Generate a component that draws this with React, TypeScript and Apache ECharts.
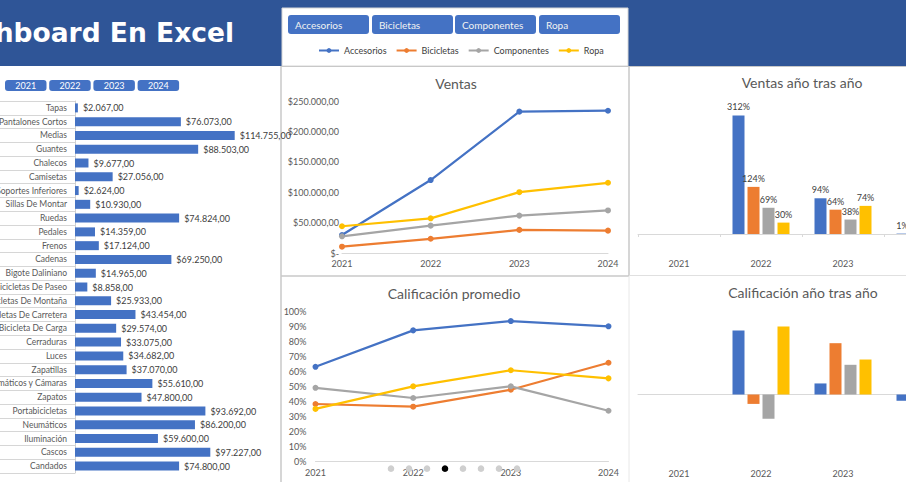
import React, { useEffect, useRef } from "react";
import * as echarts from "echarts";

const years = ["2021", "2022", "2023", "2024"];
const seriesNames = ["Accesorios", "Bicicletas", "Componentes", "Ropa"];
const colors = ["#4472C4", "#ED7D31", "#A5A5A5", "#FFC000"];

const products = [
  "Tapas", "Pantalones Cortos", "Medias", "Guantes", "Chalecos", "Camisetas",
  "Soportes Inferiores", "Sillas De Montar", "Ruedas", "Pedales", "Frenos", "Cadenas",
  "Bigote Daliniano", "Bicicletas De Paseo", "Bicicletas De Montaña", "Bicicletas De Carretera",
  "Bicicleta De Carga", "Cerraduras", "Luces", "Zapatillas", "Neumáticos y Cámaras",
  "Zapatos", "Portabicicletas", "Neumáticos", "Iluminación", "Cascos", "Candados",
];
const productSales = [
  2067, 76073, 114755, 88503, 9677, 27056, 2624, 10930, 74824, 14359, 17124, 69250,
  14965, 8858, 25933, 43454, 29574, 33075, 34682, 37070, 55610, 47800, 93692, 86200,
  59600, 97227, 74800,
];

const ventasAccesorios = [29500, 120000, 232500, 234000];
const ventasBicicletas = [10400, 23400, 38000, 36800];
const ventasComponentes = [27500, 45000, 61500, 70000];
const ventasRopa = [44000, 57000, 100000, 115500];

const califAccesorios = [63, 87.3, 93.5, 90];
const califBicicletas = [38.2, 36.4, 47.7, 65.7];
const califComponentes = [49, 42.2, 50, 33.7];
const califRopa = [34.9, 50, 60.7, 55.3];

const ventasYoyAccesorios = [null, 312, 94, 1];
const ventasYoyBicicletas = [null, 124, 64, -3];
const ventasYoyComponentes = [null, 69, 38, 13];
const ventasYoyRopa = [null, 30, 74, 15];

const califYoyAccesorios = [null, 38.8, 6.7, -3.8];
const califYoyBicicletas = [null, -5.7, 31.1, 37.7];
const califYoyComponentes = [null, -14.7, 18.0, -32.6];
const califYoyRopa = [null, 41.2, 21.2, -8.9];

const yearButtons = ["2021", "2022", "2023", "2024"];
const slicerButtons = ["Accesorios", "Bicicletas", "Componentes", "Ropa"];

const FONT = "Lato";
const TXT = "#595959";

function money(v: number): string {
  if (v === 0) return "$-";
  const s = Math.round(v).toString().replace(/\B(?=(\d{3})+(?!\d))/g, ".");
  return "$" + s + ",00";
}

export default function App() {
  const ref = useRef<HTMLDivElement>(null);
  useEffect(() => {
    document.body.style.margin = "0";
    const chart = echarts.init(ref.current!, undefined, { renderer: "svg" });

    const ventas = [ventasAccesorios, ventasBicicletas, ventasComponentes, ventasRopa];
    const calif = [califAccesorios, califBicicletas, califComponentes, califRopa];
    const vYoy = [ventasYoyAccesorios, ventasYoyBicicletas, ventasYoyComponentes, ventasYoyRopa];
    const cYoy = [califYoyAccesorios, califYoyBicicletas, califYoyComponentes, califYoyRopa];

    const lineCommon = (i: number) => ({
      type: "line",
      name: seriesNames[i],
      symbol: "circle",
      symbolSize: 6,
      itemStyle: { color: colors[i] },
      lineStyle: { color: colors[i], width: 2.25 },
      z: 5,
    });

    const series: any[] = [];
    for (let i = 0; i < 4; i++) {
      series.push({ ...lineCommon(i), xAxisIndex: 1, yAxisIndex: 1, data: ventas[i] });
    }
    for (let i = 0; i < 4; i++) {
      series.push({ ...lineCommon(i), xAxisIndex: 2, yAxisIndex: 2, data: calif[i] });
    }
    series.push({
      type: "bar",
      name: "Ventas producto",
      xAxisIndex: 0,
      yAxisIndex: 0,
      data: productSales,
      barWidth: 9,
      itemStyle: { color: "#4472C4" },
      label: {
        show: true,
        position: "right",
        distance: 5,
        fontFamily: FONT,
        fontSize: 9,
        color: "#404040",
        formatter: (p: any) => money(p.value),
      },
    });
    for (let i = 0; i < 4; i++) {
      series.push({
        type: "bar",
        name: seriesNames[i],
        xAxisIndex: 3,
        yAxisIndex: 3,
        data: vYoy[i],
        barWidth: 12,
        barGap: "25%",
        itemStyle: { color: colors[i] },
        label: {
          show: true,
          position: "top",
          distance: 4,
          fontFamily: FONT,
          fontSize: 9,
          color: "#404040",
          formatter: (p: any) => (p.value == null ? "" : p.value + "%"),
        },
      });
    }
    for (let i = 0; i < 4; i++) {
      series.push({
        type: "bar",
        name: seriesNames[i],
        xAxisIndex: 5,
        yAxisIndex: 4,
        data: cYoy[i],
        barWidth: 12,
        barGap: "25%",
        itemStyle: { color: colors[i] },
      });
    }

    const catLabel = { fontFamily: FONT, fontSize: 9, color: TXT };

    const graphic: any[] = [];
    graphic.push({ type: "rect", shape: { x: 0, y: 0, width: 906, height: 66 }, style: { fill: "#2F5597" }, z: 0 });
    graphic.push({
      type: "text", x: 234, y: 32, z: 1,
      style: { text: "Dashboard En Excel", fill: "#ffffff", font: "bold 26.5px 'DejaVu Sans'", textAlign: "right", textVerticalAlign: "middle" },
    });
    graphic.push({
      type: "rect", shape: { x: 282, y: 8, width: 346, height: 58 },
      style: { fill: "#ffffff", stroke: "#d6d6d6", lineWidth: 1 }, z: 1,
    });
    const slX = [288, 372, 455, 539];
    slicerButtons.forEach((s, i) => {
      graphic.push({
        type: "rect", shape: { x: slX[i], y: 15, width: 81, height: 19, r: 3 },
        style: { fill: "#4472C4" }, z: 2,
      });
      graphic.push({
        type: "text", x: slX[i] + 7, y: 24.5, z: 3,
        style: { text: s, fill: "#f2f2f2", font: `10px ${FONT}`, textVerticalAlign: "middle" },
      });
    });
    yearButtons.forEach((s, i) => {
      const x = 5 + i * 44.2;
      graphic.push({
        type: "rect", shape: { x, y: 80, width: 41.5, height: 11, r: 3 },
        style: { fill: "#4472C4" }, z: 2,
      });
      graphic.push({
        type: "text", x: x + 20.75, y: 85.7, z: 3,
        style: { text: s, fill: "#ffffff", font: `9px ${FONT}`, textAlign: "center", textVerticalAlign: "middle" },
      });
    });
    const line = (x1: number, y1: number, x2: number, y2: number, c: string, w = 1.5) =>
      graphic.push({ type: "line", shape: { x1, y1, x2, y2 }, style: { stroke: c, lineWidth: w }, z: 1 });
    line(281, 66, 281, 482, "#c8c8c8");
    line(281, 66.5, 906, 66.5, "#c8c8c8", 1);
    line(281, 276, 629, 276, "#c8c8c8");
    line(629, 66, 629, 276, "#c8c8c8");
    line(629, 276, 629, 482, "#e8e8e8", 1);
    line(629, 275.5, 906, 275.5, "#e0e0e0", 1);

    const title = (t: string, x: number, y: number) =>
      graphic.push({
        type: "text", x, y, z: 3,
        style: { text: t, fill: TXT, font: `14px ${FONT}`, textAlign: "center", textVerticalAlign: "middle" },
      });
    title("Ventas", 456, 83);
    title("Calificación promedio", 454, 293);
    title("Ventas año tras año", 802, 82);
    title("Calificación año tras año", 803, 292);

    const dotsX = [391, 409, 427, 445, 463, 481, 499, 517];
    dotsX.forEach((x, i) => {
      graphic.push({
        type: "circle", shape: { cx: x, cy: 468.7, r: 3.3 },
        style: { fill: i === 3 ? "#000000" : "#cfcfcf" }, z: 100,
      });
    });

    const g = (o: any) => ({ outerBoundsMode: "none", containLabel: false, ...o });

    chart.setOption({
      animation: false,
      textStyle: { fontFamily: FONT },
      legend: {
        data: seriesNames,
        left: 318,
        top: 46,
        padding: 0,
        itemWidth: 20,
        itemHeight: 6,
        itemGap: 9,
        textStyle: { fontFamily: FONT, fontSize: 9, color: "#404040" },
        selectedMode: false,
      },
      grid: [
        g({ left: 75, top: 101, width: 167, height: 372 }),
        g({ left: 342, top: 101, width: 266, height: 152 }),
        g({ left: 315.5, top: 311.3, width: 293, height: 150 }),
        g({ left: 638, top: 101, width: 328, height: 152 }),
        g({ left: 638, top: 312, width: 328, height: 148.5 }),
      ],
      xAxis: [
        { type: "value", gridIndex: 0, min: 0, max: 120000, show: false },
        {
          type: "category", gridIndex: 1, data: years, boundaryGap: false, position: "bottom",
          axisLine: { lineStyle: { color: "#d9d9d9" } }, axisTick: { show: false },
          axisLabel: { ...catLabel, margin: 6 },
        },
        {
          type: "category", gridIndex: 2, data: years, boundaryGap: false, position: "bottom",
          axisLine: { lineStyle: { color: "#d9d9d9" } }, axisTick: { show: false },
          axisLabel: { ...catLabel, margin: 7 },
        },
        {
          type: "category", gridIndex: 3, data: years, position: "bottom",
          axisLine: { onZero: true, lineStyle: { color: "#d9d9d9" } },
          axisTick: { show: true, length: 3, interval: 0, lineStyle: { color: "#d9d9d9" } },
          axisLabel: { show: false },
        },
        {
          type: "category", gridIndex: 3, data: years, position: "bottom",
          axisLine: { show: false, onZero: false }, axisTick: { show: false },
          axisLabel: { ...catLabel, margin: 6 },
        },
        {
          type: "category", gridIndex: 4, data: years, position: "bottom",
          axisLine: { onZero: true, lineStyle: { color: "#d9d9d9" } },
          axisTick: { show: false },
          axisLabel: { show: false },
        },
        {
          type: "category", gridIndex: 4, data: years, position: "bottom",
          axisLine: { show: false, onZero: false }, axisTick: { show: false },
          axisLabel: { ...catLabel, margin: 8 },
        },
      ],
      yAxis: [
        {
          type: "category", gridIndex: 0, data: products, inverse: true,
          axisLine: { show: true, lineStyle: { color: "#d0d0d0" } },
          axisTick: { show: true, length: 75, interval: 0, lineStyle: { color: "#d6d6d6" } },
          axisLabel: { fontFamily: FONT, fontSize: 8.5, color: TXT, margin: 8, interval: 0 },
        },
        {
          type: "value", gridIndex: 1, min: 0, max: 250000, interval: 50000,
          splitLine: { show: false }, axisLine: { show: false }, axisTick: { show: false },
          axisLabel: { ...catLabel, margin: 3, formatter: (v: number) => money(v) },
        },
        {
          type: "value", gridIndex: 2, min: 0, max: 100, interval: 10,
          splitLine: { show: false }, axisLine: { show: false }, axisTick: { show: false },
          axisLabel: { ...catLabel, margin: 9, formatter: "{value}%" },
        },
        { type: "value", gridIndex: 3, min: -50, max: 350, show: false, splitLine: { show: false } },
        { type: "value", gridIndex: 4, min: -40, max: 50, show: false, splitLine: { show: false } },
      ],
      graphic,
      series,
    });
    return () => chart.dispose();
  }, []);
  return (
    <div
      ref={ref}
      style={{ position: "absolute", left: 0, top: 0, width: 906, height: 482, background: "#ffffff" }}
    />
  );
}
